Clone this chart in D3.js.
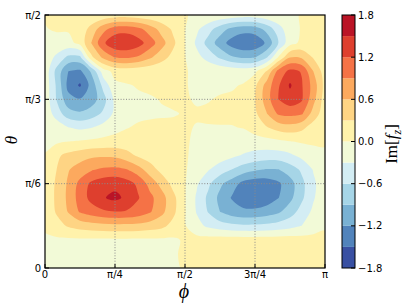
<!DOCTYPE html>
<html>
<head>
<meta charset="utf-8">
<script src="https://cdn.jsdelivr.net/npm/d3@7"></script>
<style>
body { margin: 0; background: #fff; }
text { font-family: "DejaVu Sans", sans-serif; }
</style>
</head>
<body>
<div class="chart"></div>
<script>
var PI = Math.PI;

// sample grid: phi 0..pi (25 columns), theta pi/2..0 (19 rows)
var phi = d3.range(25).map(function (i) { return i * PI / 24; });
var theta = d3.range(19).map(function (j) { return PI / 2 - j * PI / 36; });

// Im[f_z], one row per theta (first row is theta = pi/2)
var imFz = [
  [0.02, 0.02, 0.02, 0.03, 0.05, 0.09, 0.14, 0.16, 0.12, 0.08, 0.05, 0.03, 0.01, -0.03, -0.05, -0.08, -0.12, -0.16, -0.14, -0.09, -0.05, -0.03, 0.01, 0.02, 0.02],
  [-0.01, 0.02, 0.03, 0.10, 0.42, 0.80, 1.05, 1.08, 0.98, 0.76, 0.48, 0.24, 0.01, -0.24, -0.48, -0.76, -0.98, -1.08, -1.05, -0.80, -0.43, -0.11, 0.02, 0.03, 0.03],
  [-0.03, -0.07, -0.09, 0.08, 0.62, 1.15, 1.42, 1.45, 1.33, 1.05, 0.72, 0.36, 0.01, -0.36, -0.72, -1.05, -1.33, -1.45, -1.42, -1.15, -0.60, -0.10, 0.06, 0.06, 0.03],
  [-0.10, -0.37, -0.67, -0.66, 0.24, 0.68, 0.92, 0.95, 0.86, 0.65, 0.42, 0.20, 0.01, -0.20, -0.42, -0.65, -0.86, -0.95, -0.92, -0.64, 0.02, 0.58, 0.55, 0.27, 0.05],
  [-0.10, -0.70, -1.20, -1.26, -0.84, -0.13, 0.09, 0.13, 0.10, 0.08, 0.05, 0.03, 0.01, -0.03, -0.05, -0.08, -0.10, -0.13, -0.06, 0.32, 1.00, 1.28, 1.18, 0.60, 0.14],
  [-0.10, -0.65, -1.30, -1.54, -1.08, -0.50, -0.06, -0.02, 0.02, 0.04, 0.05, 0.04, 0.01, -0.03, -0.04, -0.04, -0.03, 0.02, 0.24, 0.72, 1.16, 1.54, 1.23, 0.78, 0.19],
  [-0.10, -0.62, -1.10, -1.18, -1.05, -0.72, -0.22, -0.08, -0.04, -0.02, 0.01, 0.03, 0.02, -0.02, -0.01, 0.02, 0.04, 0.10, 0.29, 0.76, 1.20, 1.38, 1.24, 0.70, 0.14],
  [-0.08, -0.45, -0.78, -0.86, -0.75, -0.55, -0.23, -0.09, -0.05, -0.03, -0.02, -0.01, 0.01, 0.02, 0.03, 0.04, 0.05, 0.10, 0.24, 0.59, 0.95, 1.00, 0.95, 0.48, 0.12],
  [-0.05, -0.12, -0.29, -0.36, -0.31, -0.18, -0.09, -0.01, 0.03, 0.04, 0.04, 0.03, 0.02, -0.01, -0.01, -0.01, -0.01, 0.01, 0.13, 0.28, 0.42, 0.48, 0.38, 0.16, 0.05],
  [-0.08, -0.05, 0.00, 0.03, 0.06, 0.08, 0.10, 0.10, 0.08, 0.06, 0.05, 0.04, 0.02, -0.03, -0.05, -0.07, -0.09, -0.11, -0.12, -0.10, -0.06, -0.01, 0.03, 0.04, 0.02],
  [0.02, 0.25, 0.38, 0.47, 0.54, 0.56, 0.54, 0.42, 0.25, 0.15, 0.10, 0.07, 0.02, -0.05, -0.10, -0.16, -0.24, -0.33, -0.40, -0.44, -0.43, -0.36, -0.22, -0.10, -0.03],
  [0.10, 0.30, 0.58, 0.73, 0.87, 0.95, 0.97, 0.91, 0.72, 0.44, 0.20, 0.12, 0.02, -0.10, -0.28, -0.44, -0.60, -0.75, -0.86, -0.92, -0.91, -0.75, -0.55, -0.28, -0.08],
  [0.12, 0.34, 0.65, 0.99, 1.27, 1.38, 1.42, 1.32, 1.14, 0.79, 0.50, 0.20, 0.02, -0.26, -0.54, -0.84, -1.05, -1.30, -1.38, -1.36, -1.25, -1.03, -0.68, -0.36, -0.10],
  [0.12, 0.35, 0.67, 1.03, 1.30, 1.48, 1.57, 1.44, 1.22, 0.98, 0.72, 0.38, 0.02, -0.34, -0.67, -0.98, -1.22, -1.36, -1.42, -1.37, -1.21, -0.98, -0.66, -0.33, -0.10],
  [0.10, 0.33, 0.62, 0.93, 1.06, 1.15, 1.19, 1.17, 1.08, 0.93, 0.68, 0.37, 0.02, -0.32, -0.62, -0.90, -1.06, -1.14, -1.13, -1.06, -0.95, -0.74, -0.48, -0.24, -0.07],
  [0.05, 0.20, 0.33, 0.42, 0.47, 0.50, 0.52, 0.52, 0.50, 0.45, 0.38, 0.20, 0.02, -0.20, -0.36, -0.46, -0.52, -0.55, -0.55, -0.52, -0.47, -0.40, -0.30, -0.15, -0.04],
  [-0.05, -0.05, -0.05, -0.05, -0.05, -0.05, -0.05, -0.05, -0.05, -0.05, -0.05, -0.04, 0.03, 0.10, 0.12, 0.15, 0.15, 0.15, 0.15, 0.15, 0.15, 0.15, 0.13, 0.10, 0.08],
  [-0.06, -0.06, -0.06, -0.06, -0.06, -0.06, -0.06, -0.06, -0.06, -0.05, -0.04, -0.02, 0.03, 0.08, 0.10, 0.10, 0.10, 0.10, 0.10, 0.10, 0.10, 0.10, 0.10, 0.10, 0.08],
  [-0.05, -0.05, -0.05, -0.05, -0.05, -0.05, -0.05, -0.05, -0.05, -0.05, -0.04, -0.03, 0.02, 0.06, 0.08, 0.08, 0.08, 0.08, 0.08, 0.08, 0.08, 0.08, 0.08, 0.08, 0.06]
];

var levels = [-1.8, -1.5, -1.2, -0.9, -0.6, -0.3, 0, 0.3, 0.6, 0.9, 1.2, 1.5, 1.8];
var phiTicks = [0, PI / 4, PI / 2, 3 * PI / 4, PI];
var phiLabels = ["0", "π/4", "π/2", "3π/4", "π"];
var thetaTicks = [0, PI / 6, PI / 3, PI / 2];
var thetaLabels = ["0", "π/6", "π/3", "π/2"];
var cbarTicks = [-1.8, -1.2, -0.6, 0, 0.6, 1.2, 1.8];
var cbarLabels = ["\u22121.8", "\u22121.2", "\u22120.6", "0.0", "0.6", "1.2", "1.8"];

var svg = d3.select(".chart")
    .append("svg")
    .attr("width", 407)
    .attr("height", 305)

var x = d3.scaleLinear().domain([0, PI]).range([45, 325]);
var y = d3.scaleLinear().domain([0, PI / 2]).range([268, 15]);

// RdYlBu reversed, linear between the 11 brewer colours like matplotlib
var cmap = d3.scaleLinear()
    .domain(d3.range(11).map(function (i) { return i / 10; }))
    .range(d3.schemeRdYlBu[11].slice().reverse());
var bandColor = function (k) { return cmap((k + 0.5) / 12); };

// contour grid coords -> data coords (sample k sits at k + 0.5)
var nx = phi.length, ny = theta.length;
var gphi = d3.scaleLinear().domain([0.5, nx - 0.5]).range([phi[0], phi[nx - 1]]);
var gtheta = d3.scaleLinear().domain([0.5, ny - 0.5]).range([theta[0], theta[ny - 1]]);

var values = [].concat.apply([], imFz);
var contours = d3.contours()
    .size([nx, ny])
    .thresholds(levels.slice(1, -1))(values);

var ring = d3.line()
    .x(function (p) { return x(gphi(p[0])); })
    .y(function (p) { return y(gtheta(p[1])); })
    .curve(d3.curveCatmullRomClosed.alpha(0.5));

svg.append("clipPath").attr("id", "plot")
    .append("rect")
    .attr("x", 45).attr("y", 15).attr("width", 280).attr("height", 253)

var plot = svg.append("g").attr("clip-path", "url(#plot)");

plot.append("rect")
    .attr("x", 45).attr("y", 15).attr("width", 280).attr("height", 253)
    .style("fill", bandColor(0))

plot.selectAll("path.band")
    .data(contours)
    .enter()
    .append("path")
    .attr("class", "band")
    .attr("fill-rule", "evenodd")
    .style("fill", function (d, i) { return bandColor(i + 1); })
    .attr("d", function (d) {
        var s = "";
        d.coordinates.forEach(function (poly) {
            poly.forEach(function (r) { s += ring(r.slice(0, -1)); });
        });
        return s;
    })

// dotted grid
svg.selectAll("line.gx")
    .data(phiTicks.slice(1, -1))
    .enter()
    .append("line")
    .attr("x1", x).attr("x2", x)
    .attr("y1", 15).attr("y2", 268)
    .style("stroke", "#8a8a8a")
    .style("stroke-width", 1)
    .style("stroke-dasharray", "1,1.7")

svg.selectAll("line.gy")
    .data(thetaTicks.slice(1, -1))
    .enter()
    .append("line")
    .attr("y1", y).attr("y2", y)
    .attr("x1", 45).attr("x2", 325)
    .style("stroke", "#8a8a8a")
    .style("stroke-width", 1)
    .style("stroke-dasharray", "1,1.7")

// inward ticks
svg.selectAll("line.tx")
    .data(phiTicks)
    .enter()
    .append("line")
    .attr("x1", x).attr("x2", x)
    .attr("y1", 268).attr("y2", 264)
    .style("stroke", "#000")

svg.selectAll("line.ty")
    .data(thetaTicks)
    .enter()
    .append("line")
    .attr("y1", y).attr("y2", y)
    .attr("x1", 45).attr("x2", 49)
    .style("stroke", "#000")

svg.append("rect")
    .attr("x", 45).attr("y", 15).attr("width", 280).attr("height", 253)
    .style("fill", "none")
    .style("stroke", "#000")
    .style("stroke-width", 1.2)

svg.selectAll("text.xl")
    .data(phiTicks)
    .enter()
    .append("text")
    .attr("x", x)
    .attr("y", 278)
    .attr("text-anchor", "middle")
    .style("font-size", "10px")
    .text(function (d, i) { return phiLabels[i]; })

svg.selectAll("text.yl")
    .data(thetaTicks)
    .enter()
    .append("text")
    .attr("x", 41)
    .attr("y", y)
    .attr("dy", "0.35em")
    .attr("text-anchor", "end")
    .style("font-size", "10px")
    .text(function (d, i) { return thetaLabels[i]; })

svg.append("text")
    .attr("x", 184)
    .attr("y", 298)
    .attr("text-anchor", "middle")
    .style("font-family", "Liberation Serif, serif")
    .style("font-style", "italic")
    .style("font-size", "20px")
    .text("ϕ")

svg.append("text")
    .attr("transform", "translate(17,140) rotate(-90)")
    .attr("text-anchor", "middle")
    .style("font-family", "Liberation Serif, serif")
    .style("font-style", "italic")
    .style("font-size", "17px")
    .text("θ")

// colorbar
var cy = d3.scaleLinear().domain([-1.8, 1.8]).range([268, 15]);

svg.selectAll("rect.cb")
    .data(levels.slice(0, -1))
    .enter()
    .append("rect")
    .attr("x", 342)
    .attr("width", 13)
    .attr("y", function (d, i) { return cy(levels[i + 1]); })
    .attr("height", function (d, i) { return cy(d) - cy(levels[i + 1]); })
    .style("fill", function (d, i) { return bandColor(i); })

svg.append("rect")
    .attr("x", 342).attr("y", 15).attr("width", 13).attr("height", 253)
    .style("fill", "none")
    .style("stroke", "#000")
    .style("stroke-width", 1)

svg.selectAll("line.ct")
    .data(cbarTicks)
    .enter()
    .append("line")
    .attr("x1", 351).attr("x2", 355)
    .attr("y1", cy).attr("y2", cy)
    .style("stroke", "#000")

svg.selectAll("text.cl")
    .data(cbarTicks)
    .enter()
    .append("text")
    .attr("x", 358)
    .attr("y", cy)
    .attr("dy", "0.35em")
    .style("font-size", "10px")
    .text(function (d, i) { return cbarLabels[i]; })

var cbl = svg.append("text")
    .attr("transform", "translate(397,144) rotate(-90)")
    .attr("text-anchor", "middle")
    .style("font-family", "Liberation Serif, serif")
    .style("font-size", "17px")
cbl.append("tspan").text("Im[")
cbl.append("tspan").style("font-style", "italic").text("f")
cbl.append("tspan").style("font-style", "italic").style("font-size", "12px").attr("dy", 4).text("z")
cbl.append("tspan").attr("dy", -4).text("]")
</script>
</body>
</html>
